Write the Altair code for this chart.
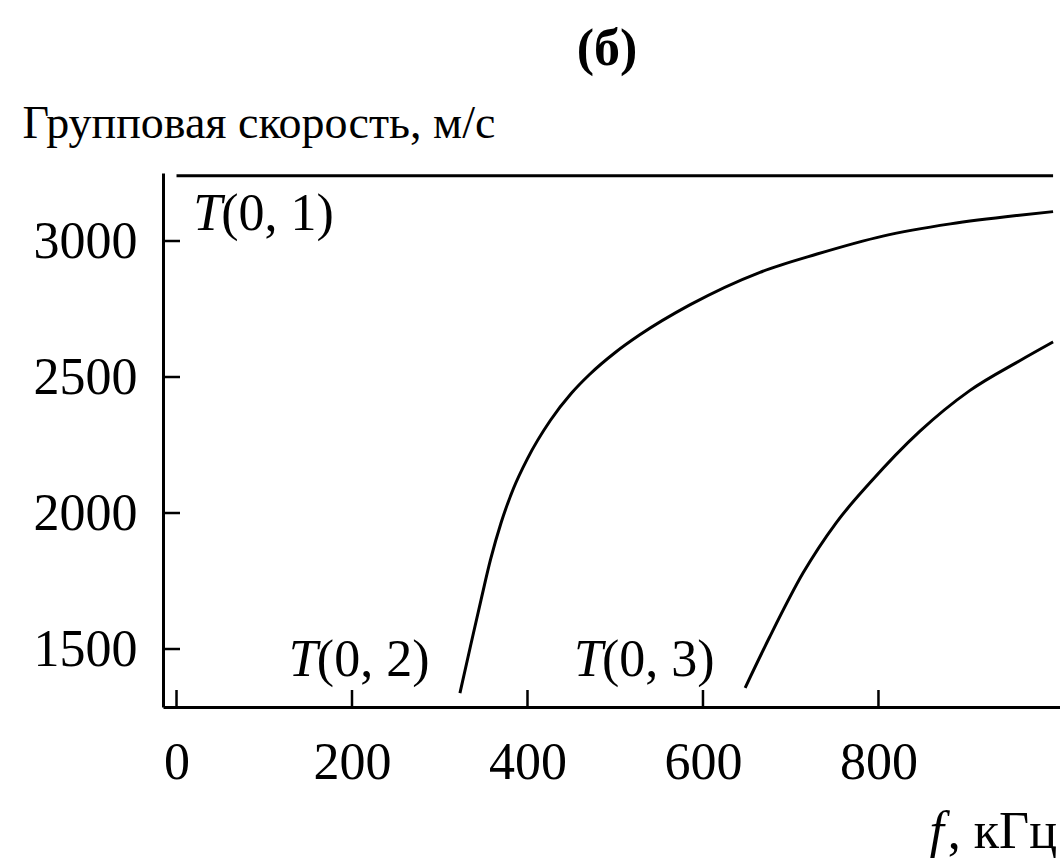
import altair as alt
import pandas as pd

# ---- data ----
t01_f = [0, 999]
t01_v = [3240, 3240]

t02_f = [323, 335, 347, 358, 370, 384, 400, 426, 450, 471, 500, 528, 585, 665, 730, 805, 882, 958, 999]
t02_v = [1338, 1510, 1680, 1830, 1965, 2090, 2200, 2340, 2440, 2510, 2590, 2655, 2765, 2885, 2952, 3018, 3063, 3094, 3108]

t03_f = [648, 676, 714, 752, 790, 847, 904, 961, 999]
t03_v = [1357, 1544, 1779, 1965, 2110, 2300, 2450, 2560, 2629]

x_ticks = [0, 200, 400, 600, 800]
y_ticks = [1500, 2000, 2500, 3000]

label_names = ["(0, 1)", "(0, 2)", "(0, 3)"]
label_f = [19, 128, 453]
label_v = [3040, 1400, 1400]

FONT = "Liberation Serif"
FS = 52
W, H = 897, 534
XDOM = [-15.4, 1006.9]
YDOM = [1286.8, 3250]

rows = []
for name, fs, vs in [("T01", t01_f, t01_v), ("T02", t02_f, t02_v), ("T03", t03_f, t03_v)]:
    for f, v in zip(fs, vs):
        rows.append({"mode": name, "f": f, "v": v})
curves = pd.DataFrame(rows)

xs = alt.Scale(domain=XDOM, nice=False, zero=False)
ys = alt.Scale(domain=YDOM, nice=False, zero=False)

x_axis = alt.Axis(values=x_ticks, ticks=False, grid=False, domainColor="black",
                  domainWidth=3, labelFont=FONT, labelFontSize=FS, labelColor="black",
                  labelPadding=30, labelBaseline="top", title=None, labelFlush=False,
                  format="d")
y_axis = alt.Axis(values=y_ticks, ticks=False, grid=False, domainColor="black",
                  domainWidth=3, labelFont=FONT, labelFontSize=FS, labelColor="black",
                  labelPadding=26, labelBaseline="middle", labelFlush=False, format="d",
                  title="Групповая скорость, м/с", titleAngle=0, titleAlign="left",
                  titleAnchor="start", titleX=-141, titleY=-36, titleBaseline="alphabetic",
                  titleFont=FONT, titleFontSize=46, titleFontWeight="normal",
                  titleColor="black")

lines = alt.Chart(curves).mark_line(color="black", strokeWidth=3, interpolate="monotone").encode(
    x=alt.X("f:Q", scale=xs, axis=x_axis),
    y=alt.Y("v:Q", scale=ys, axis=y_axis),
    detail="mode:N",
)

xt = alt.Chart(pd.DataFrame({"t": x_ticks})).mark_rule(color="black", strokeWidth=2.5).encode(
    x=alt.X("t:Q", scale=xs), y=alt.value(H), y2=alt.value(H - 17))
yt = alt.Chart(pd.DataFrame({"t": y_ticks})).mark_rule(color="black", strokeWidth=2.5).encode(
    y=alt.Y("t:Q", scale=ys), x=alt.value(0), x2=alt.value(17))

labels = pd.DataFrame({"name": label_names, "f": label_f, "v": label_v})
lab_T = alt.Chart(labels).mark_text(font=FONT, fontSize=FS, fontStyle="italic", align="left",
                                    baseline="alphabetic", color="black").encode(
    x=alt.X("f:Q", scale=xs), y=alt.Y("v:Q", scale=ys), text=alt.value("T"))
lab_rest = alt.Chart(labels).mark_text(font=FONT, fontSize=FS, align="left", dx=28,
                                       baseline="alphabetic", color="black").encode(
    x=alt.X("f:Q", scale=xs), y=alt.Y("v:Q", scale=ys), text="name:N")

panel = alt.Chart(pd.DataFrame({"a": [0]})).mark_text(font=FONT, fontSize=FS, fontWeight="bold",
                                                      align="center", baseline="alphabetic",
                                                      color="black").encode(
    x=alt.value(444), y=alt.value(-108), text=alt.value("(б)"))
xt_f = alt.Chart(pd.DataFrame({"a": [0]})).mark_text(font=FONT, fontSize=FS, fontStyle="italic",
                                                     align="right", baseline="alphabetic",
                                                     color="black").encode(
    x=alt.value(W - 116), y=alt.value(675), text=alt.value("f"))
xt_u = alt.Chart(pd.DataFrame({"a": [0]})).mark_text(font=FONT, fontSize=FS,
                                                     align="right", baseline="alphabetic",
                                                     color="black").encode(
    x=alt.value(W - 3), y=alt.value(675), text=alt.value(", кГц"))

chart = alt.layer(lines, xt, yt, lab_T, lab_rest, panel, xt_f, xt_u).properties(
    width=W, height=H,
    autosize=alt.AutoSizeParams(type="none"),
    padding={"left": 163, "top": 173, "right": 0, "bottom": 151},
    background="white",
).configure_view(stroke=None)

chart.save("out.html", embed_options={"renderer": "svg", "actions": False})
